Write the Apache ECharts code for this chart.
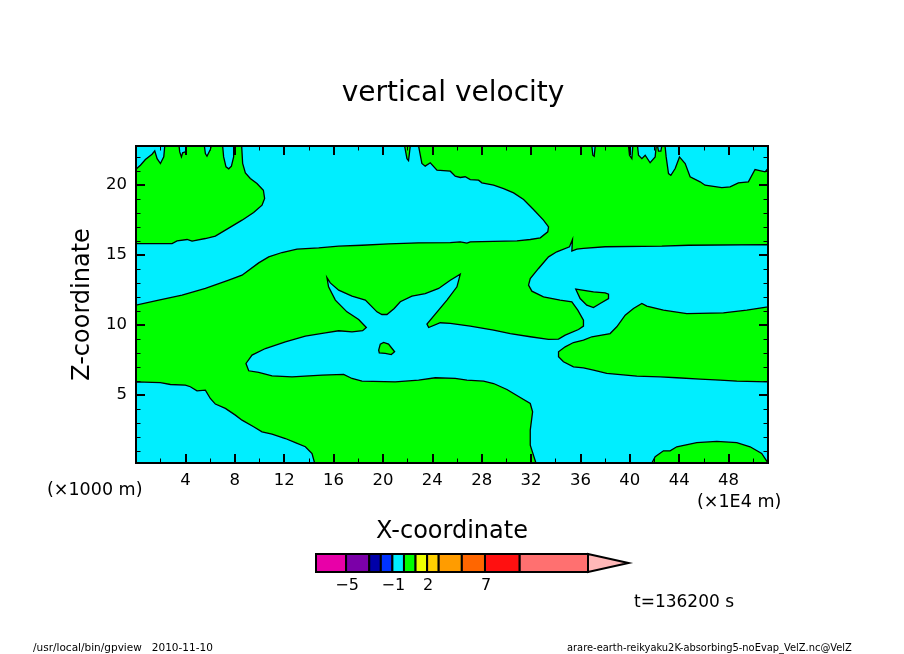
<!DOCTYPE html>
<html>
<head>
<meta charset="utf-8">
<title>vertical velocity</title>
<script src="https://cdn.jsdelivr.net/npm/echarts@6/dist/echarts.min.js"></script>
<style>
html, body { margin: 0; padding: 0; background: #fff; }
#main { width: 904px; height: 654px; }
</style>
</head>
<body>
<div id="main"></div>
<script>
// contour outlines, [x (1E4 m), z (1000 m)]
var upperCyan = [[0,15.83],[2.92,15.83],[3.33,16.02],[4.14,16.12],[4.54,16],[5.62,16.19],[6.43,16.36],[7.51,16.93],[8.59,17.5],[9.53,18.05],[10.21,18.57],[10.42,19.05],[10.32,19.64],[9.8,20.12],[9.26,20.48],[8.86,20.88],[8.64,21.55],[8.56,22.8],[21.76,22.8],[21.95,21.9],[22.08,21.76],[22.22,22.8],[22.89,22.8],[23.16,21.55],[23.43,21.36],[23.84,21.6],[24.38,21.07],[25.46,21],[25.86,20.64],[26.27,20.55],[26.67,20.6],[27.08,20.4],[27.75,20.36],[28.02,20.17],[28.97,20],[29.78,19.76],[30.59,19.45],[31.4,18.98],[32.2,18.26],[33.01,17.5],[33.42,17.02],[33.36,16.67],[32.75,16.24],[31.94,16.12],[30.86,16.02],[27.08,15.95],[26.81,15.86],[26.27,15.95],[25.46,15.9],[22.89,15.88],[20.46,15.81],[18.31,15.71],[16.42,15.64],[14.8,15.52],[13.04,15.43],[11.83,15.19],[10.75,14.88],[9.94,14.45],[8.59,13.57],[7.51,13.21],[5.62,12.62],[3.73,12.14],[1.84,11.79],[0,11.43]];
var centralCyan = [[51.2,15.76],[44.76,15.71],[42.6,15.64],[38.01,15.6],[36.25,15.48],[35.71,15.43],[35.31,15.29],[35.36,16.12],[35.12,15.6],[34.09,15.24],[33.42,14.88],[32.61,14.05],[31.94,13.33],[31.8,12.86],[32.07,12.43],[33.01,12.02],[34.36,11.79],[35.31,11.67],[35.79,11.07],[36.25,10.36],[36.25,9.93],[35.85,9.69],[34.77,9.29],[34.23,9],[33.42,8.98],[31.94,9.17],[30.32,9.4],[28.97,9.64],[27.08,9.93],[25.46,10.12],[24.65,10.17],[23.71,9.83],[23.57,10.07],[25.19,11.79],[26,12.74],[26.27,13.64],[25.46,13.21],[24.52,12.62],[23.43,12.26],[22.35,12.07],[21.41,11.67],[20.92,11.19],[20.33,10.76],[19.92,10.76],[19.52,10.95],[18.58,11.79],[17.5,12.07],[16.42,12.5],[15.74,13.02],[15.47,13.4],[15.6,12.74],[16.15,11.79],[17.09,10.95],[18.04,10.4],[18.66,9.83],[18.36,9.6],[17.5,9.52],[16.42,9.6],[15.34,9.45],[13.72,9.21],[12.1,8.81],[10.48,8.33],[9.4,7.86],[8.91,7.26],[9.13,6.74],[9.94,6.62],[11.02,6.38],[12.64,6.31],[15.07,6.43],[16.82,6.48],[17.5,6.19],[18.31,6],[21,5.95],[22.89,6.07],[24.25,6.24],[25.86,6.19],[26.81,6.07],[28.16,6],[28.97,5.83],[30.05,5.4],[31.13,4.83],[31.94,4.4],[32.13,3.81],[31.94,2.5],[31.94,1.43],[32.4,0.15],[41.79,0.15],[42.06,0.6],[42.73,1.02],[43.27,1.02],[43.81,1.31],[45.43,1.6],[47.05,1.69],[48.67,1.6],[49.75,1.31],[50.69,0.83],[51.2,0.15],[51.2,5.95],[48.67,6],[47.32,6.07],[45.7,6.14],[43.81,6.24],[42.46,6.31],[40.57,6.36],[38.14,6.55],[37.06,6.79],[36.25,6.95],[35.44,7.02],[34.63,7.38],[34.23,7.74],[34.23,8.1],[34.77,8.45],[35.44,8.76],[36.25,8.93],[36.93,9.17],[38.41,9.4],[38.95,9.88],[39.63,10.71],[40.3,11.19],[40.98,11.55],[41.38,11.36],[42.73,11.07],[44.62,10.83],[47.59,10.88],[49.48,11.07],[51.2,11.31]];
var lowerCyan = [[0,5.95],[1.98,5.9],[2.79,5.76],[4,5.71],[4.4,5.6],[4.94,5.31],[5.62,5.36],[6.02,4.76],[6.43,4.36],[7.24,4.05],[8.05,3.57],[8.59,3.21],[9.53,2.74],[10.21,2.38],[11.02,2.21],[12.1,1.9],[12.91,1.6],[13.72,1.31],[14.26,0.83],[14.47,0.15],[0,0.15]];
var topCyan1 = [[2.33,22.8],[2.25,22.02],[1.98,21.55],[1.71,21.9],[1.52,22.45],[1.3,22.21],[0.76,21.83],[0.36,21.43],[0,21.14],[0,22.8]];
var topCyan2 = [[3.49,22.8],[3.54,22.38],[3.68,22.02],[3.78,22.31],[4,22.38],[4.08,22.8]];
var topCyan3 = [[5.54,22.8],[5.62,22.26],[5.75,22.07],[6.02,22.55],[6.1,22.8]];
var topCyan4 = [[7.02,22.8],[7.1,22.02],[7.29,21.31],[7.51,21.17],[7.73,21.36],[7.91,22.02],[7.91,22.8]];
var topCyan5 = [[36.93,22.8],[37.01,22.14],[37.12,22.07],[37.2,22.8]];
var topCyan6 = [[39.9,22.8],[39.98,22.14],[40.17,21.9],[40.25,22.8]];
var topCyan7 = [[40.63,22.8],[40.71,22.14],[40.98,21.9],[41.25,22.14],[41.65,21.6],[42.06,22.02],[42.14,22.8]];
var topCyan8 = [[42.25,22.8],[42.33,22.43],[42.52,22.43],[42.6,22.8]];
var topCyan9 = [[42.86,22.8],[42.95,22.02],[43.14,20.83],[43.33,20.71],[43.68,21.19],[44.03,22.02],[44.49,21.55],[44.89,20.6],[45.7,20.24],[46.1,20],[47.46,19.83],[48.13,19.88],[48.8,20.17],[49.61,20.24],[50.15,21.12],[50.96,20.95],[51.2,21.19],[51.2,22.8]];
var greenIsland1 = [[35.63,12.57],[35.98,11.9],[36.52,11.43],[37.06,11.26],[37.6,11.55],[38.28,11.9],[38.28,12.21],[38.01,12.31],[37.06,12.38]];
var greenIsland2 = [[19.66,8.21],[19.79,8.64],[20.06,8.76],[20.46,8.64],[20.95,8.1],[20.68,7.9],[20.19,7.98],[19.71,8.02]];

var cyanShapes = [upperCyan, centralCyan, lowerCyan, topCyan1, topCyan2, topCyan3, topCyan4, topCyan5, topCyan6, topCyan7, topCyan8, topCyan9];
var greenShapes = [greenIsland1, greenIsland2];

var xMajor = [4, 8, 12, 16, 20, 24, 28, 32, 36, 40, 44, 48];
var xMinor = [2, 6, 10, 14, 18, 22, 26, 30, 34, 38, 42, 46, 50];
var zMajor = [5, 10, 15, 20];
var zMinor = [1, 2, 3, 4, 6, 7, 8, 9, 11, 12, 13, 14, 16, 17, 18, 19, 21, 22];

// colour bar
var levels = [-7.6, -5, -3, -2, -1, 0, 1, 2, 3, 5, 7, 10, 15.9];
var levelColors = ['#e800a8', '#7b00a8', '#0000a8', '#0033ff', '#00eeff', '#00ff00', '#eeff00', '#ffd000', '#ff9c00', '#ff6600', '#ff1010', '#ff7070'];
var levelTicks = [-5, -1, 2, 7];
var overColor = '#ffb8b8';
var overTip = 19.4;

var CYAN = '#00eeff';
var GREEN = '#00ff00';
var FONT = '"DejaVu Sans"';

var myChart = echarts.init(document.getElementById('main'), null, { renderer: 'canvas' });

function polygonItem(color) {
	return function (params, api) {
		var shapes = color === CYAN ? cyanShapes : greenShapes;
		var pts = shapes[params.dataIndex].map(function (p) { return api.coord(p); });
		return {
			type: 'polygon',
			shape: { points: pts },
			style: { fill: color, stroke: '#000', lineWidth: 1.3 }
		};
	};
}

function mainAxis(pos, min, max, ticks, length, labels, extra) {
	var a = {
		type: 'value',
		gridIndex: 0,
		position: pos,
		min: min,
		max: max,
		z: 5,
		splitLine: { show: false },
		axisLine: { show: true, onZero: false, lineStyle: { color: '#000', width: 2 } },
		axisTick: { show: true, inside: true, length: length, customValues: ticks, lineStyle: { color: '#000', width: length > 5 ? 2 : 1 } },
		axisLabel: { show: labels, customValues: labels ? ticks : undefined, color: '#000', fontFamily: FONT, fontSize: 16.5, margin: 9 }
	};
	return Object.assign(a, extra || {});
}

var xName = { name: 'X-coordinate', nameLocation: 'middle', nameGap: 57, nameTextStyle: { color: '#000', fontFamily: FONT, fontSize: 24 } };
var zName = { name: 'Z-coordinate', nameLocation: 'middle', nameGap: 40, nameTextStyle: { color: '#000', fontFamily: FONT, fontSize: 24 } };

function freeText(text, x, y, size, align) {
	return {
		type: 'text',
		x: x,
		y: y,
		style: { text: text, fill: '#000', font: size + 'px ' + FONT, textAlign: align || 'left', textVerticalAlign: 'middle' }
	};
}

var option = {
	animation: false,
	backgroundColor: '#fff',
	title: {
		text: 'vertical velocity',
		left: 448,
		top: 75,
		textAlign: 'center',
		textStyle: { color: '#000', fontFamily: FONT, fontWeight: 'normal', fontSize: 28 }
	},
	grid: [
		{ left: 136, top: 146, width: 632, height: 317, show: true, backgroundColor: GREEN, borderWidth: 0 },
		{ left: 316, top: 554, width: 272, height: 18 }
	],
	xAxis: [
		mainAxis('bottom', 0, 51.2, xMajor, 9, true, xName),
		mainAxis('top', 0, 51.2, xMajor, 9, false),
		mainAxis('bottom', 0, 51.2, xMinor, 4.5, false),
		mainAxis('top', 0, 51.2, xMinor, 4.5, false),
		{
			type: 'value',
			gridIndex: 1,
			min: levels[0],
			max: levels[levels.length - 1],
			splitLine: { show: false },
			axisLine: { show: false },
			axisTick: { show: false },
			axisLabel: { customValues: levelTicks, color: '#000', fontFamily: FONT, fontSize: 16, margin: 6, padding: [0, 0, 0, 2], formatter: function (v) { return String(v).replace('-', '\u2212'); } }
		}
	],
	yAxis: [
		mainAxis('left', 0.15, 22.8, zMajor, 9, true, zName),
		mainAxis('right', 0.15, 22.8, zMajor, 9, false),
		mainAxis('left', 0.15, 22.8, zMinor, 4.5, false),
		mainAxis('right', 0.15, 22.8, zMinor, 4.5, false),
		{ type: 'value', gridIndex: 1, min: 0, max: 1, show: false }
	],
	series: [
		{
			type: 'custom',
			xAxisIndex: 0,
			yAxisIndex: 0,
			clip: true,
			silent: true,
			renderItem: polygonItem(CYAN),
			data: cyanShapes.map(function (s) { return s[0]; }),
			z: 2
		},
		{
			type: 'custom',
			xAxisIndex: 0,
			yAxisIndex: 0,
			clip: true,
			silent: true,
			renderItem: polygonItem(GREEN),
			data: greenShapes.map(function (s) { return s[0]; }),
			z: 3
		},
		{
			type: 'custom',
			xAxisIndex: 4,
			yAxisIndex: 4,
			silent: true,
			renderItem: function (params, api) {
				var i = params.dataIndex;
				var a = api.coord([levels[i], 1]);
				var b = api.coord([levels[i + 1], 0]);
				return {
					type: 'rect',
					shape: { x: a[0], y: a[1], width: b[0] - a[0], height: b[1] - a[1] },
					style: { fill: levelColors[i], stroke: '#000', lineWidth: 2 }
				};
			},
			data: levelColors.map(function (c, i) { return [levels[i], 0.5]; })
		},
		{
			type: 'custom',
			xAxisIndex: 4,
			yAxisIndex: 4,
			silent: true,
			renderItem: function (params, api) {
				var last = levels[levels.length - 1];
				return {
					type: 'polygon',
					shape: { points: [api.coord([last, 1]), api.coord([overTip, 0.5]), api.coord([last, 0])] },
					style: { fill: overColor, stroke: '#000', lineWidth: 2 }
				};
			},
			data: [[overTip, 0.5]]
		}
	],
	graphic: [
		freeText('(\u00d71000 m)', 47, 490, 17.5),
		freeText('(\u00d71E4 m)', 697, 502, 17.5),
		freeText('t=136200 s', 634, 603, 17),
		freeText('/usr/local/bin/gpview   2010-11-10', 33, 648, 10.5),
		freeText('arare-earth-reikyaku2K-absorbing5-noEvap_VelZ.nc@VelZ', 567, 648, 9.9)
	]
};

myChart.setOption(option);
</script>
</body>
</html>
